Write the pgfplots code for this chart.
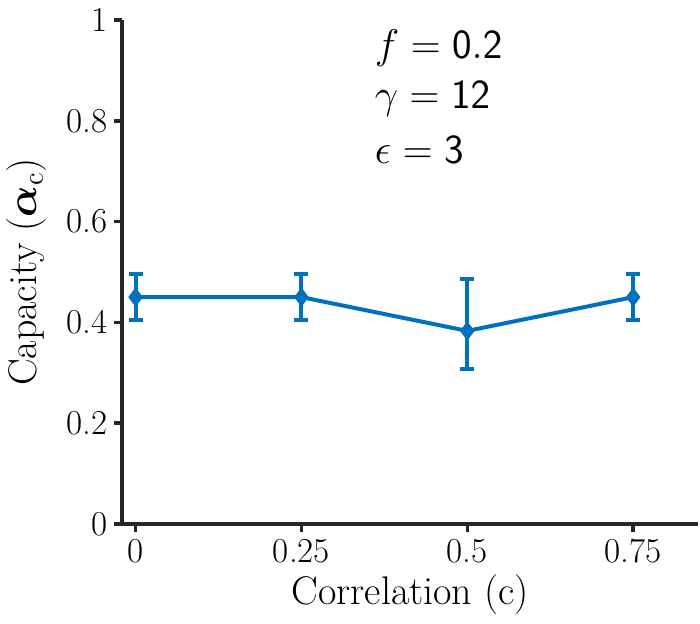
\documentclass[border=0pt]{standalone}
\usepackage{pgfplots}
\usepackage{amsmath,bm}
\pgfplotsset{compat=1.18}
\definecolor{mblue}{RGB}{0,114,189}
\begin{document}
\begin{tikzpicture}
\begin{axis}[
  scale only axis,
  width=288pt, height=252pt,
  xmin=-0.02, xmax=0.848, ymin=0, ymax=1,
  axis lines*=left,
  axis line style={line width=1.8pt, color=black!85},
  xtick={0,0.25,0.5,0.75},
  xticklabels={0,0.25,0.5,0.75},
  ytick={0,0.2,0.4,0.6,0.8,1},
  yticklabels={0,0.2,0.4,0.6,0.8,1},
  tick align=outside,
  major tick length=4pt,
  tick style={line width=1.8pt, color=black!85},
  ticklabel style={font=\fontsize{17.5}{21}\selectfont},
  label style={font=\fontsize{20}{24}\selectfont},
  xlabel={Correlation (c)},
  ylabel={Capacity ($\bm{\alpha}_{\mathrm{c}}$)},
  xlabel style={yshift=1pt},
  ylabel style={yshift=3pt},
  clip=false,
]
\addplot[color=mblue, line width=2pt, mark=diamond*, mark size=3.2pt,
  error bars/.cd, y dir=both, y explicit,
  error bar style={line width=2pt, color=mblue},
  error mark options={rotate=90, mark size=3.5pt, line width=2pt, color=mblue}]
  coordinates {
  (0,0.45) +- (0,0.045)
  (0.25,0.45) +- (0,0.045)
  (0.5,0.383) += (0,0.103) -= (0,0.075)
  (0.75,0.45) +- (0,0.045)
};
\node[anchor=west, font=\fontsize{20}{24}\selectfont] at (axis cs:0.35,0.945) {$f = \mathsf{0.2}$};
\node[anchor=west, font=\fontsize{20}{24}\selectfont] at (axis cs:0.35,0.843) {$\gamma = \mathsf{12}$};
\node[anchor=west, font=\fontsize{20}{24}\selectfont] at (axis cs:0.35,0.743) {$\epsilon = \mathsf{3}$};
\path (rel axis cs:0,1) ++(0,10pt);
\path (rel axis cs:0,0) ++(0,-50pt);
\path (rel axis cs:0,0.5) ++(-61pt,0);
\end{axis}
\end{tikzpicture}
\end{document}
